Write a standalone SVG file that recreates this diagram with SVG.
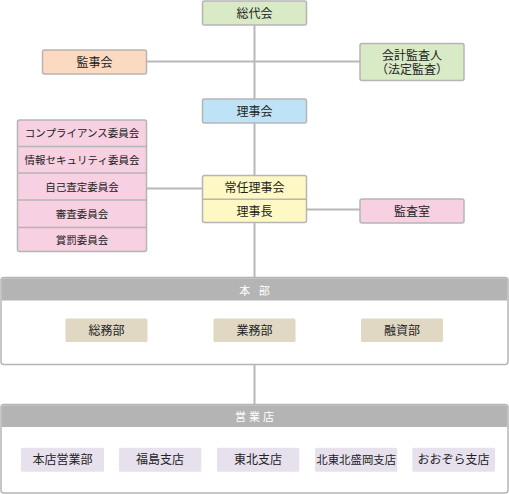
<svg xmlns="http://www.w3.org/2000/svg" width="509" height="494" viewBox="0 0 509 494">
<style>
text{font-family:"Noto Sans CJK JP","Noto Sans",sans-serif;font-size:12px;fill:#222;text-anchor:middle}
.box{stroke:#b5b5b5;stroke-width:1.5}
.g{fill:#d9eac6}.p{fill:#fcdac1}.b{fill:#bee3f7}.y{fill:#fef9c4}.k{fill:#f7d0e1}
.t{fill:#e1d8c4}.l{fill:#e7e1ee}
.sm{font-size:10.5px}
.hd{fill:#fff;font-size:11px;letter-spacing:3px}
.ln{stroke:#b8b8b8;stroke-width:2;fill:none}
.panel{fill:#fff;stroke:#b5b5b5;stroke-width:1.5}
.hdr{fill:#b4b4b4}
</style>
<rect width="509" height="494" fill="#fff"/>
<g id="connectors">
<line class="ln" x1="254.5" y1="25" x2="254.5" y2="99"/>
<line class="ln" x1="146.5" y1="61.5" x2="360" y2="61.5"/>
<line class="ln" x1="254.5" y1="123" x2="254.5" y2="175.5"/>
<line class="ln" x1="146.5" y1="188.5" x2="202.5" y2="188.5"/>
<line class="ln" x1="306.5" y1="209.5" x2="360" y2="209.5"/>
<line class="ln" x1="254.5" y1="222.5" x2="254.5" y2="278"/>
<line class="ln" x1="254.5" y1="364" x2="254.5" y2="405"/>
</g>
<g id="soudaikai"><rect class="box g" x="202.5" y="1" width="104" height="24" rx="2"/><text x="254.5" y="17.5">総代会</text></g>
<g id="kanjikai"><rect class="box p" x="42.5" y="50" width="104" height="24" rx="2"/><text x="94.5" y="66.5">監事会</text></g>
<g id="kaikei"><rect class="box g" x="360" y="43.5" width="104" height="37" rx="2"/><text x="412" y="59.5">会計監査人<tspan x="412" dy="14">（法定監査）</tspan></text></g>
<g id="rijikai"><rect class="box b" x="202.5" y="99" width="104" height="24" rx="2"/><text x="254.5" y="115.5">理事会</text></g>
<g id="committees">
<rect class="box k" x="17.5" y="120" width="129" height="131.5" rx="2"/>
<line class="box" x1="17.5" y1="146.5" x2="146.5" y2="146.5"/>
<line class="box" x1="17.5" y1="173" x2="146.5" y2="173"/>
<line class="box" x1="17.5" y1="200" x2="146.5" y2="200"/>
<line class="box" x1="17.5" y1="227.5" x2="146.5" y2="227.5"/>
<text class="sm" x="82" y="137">コンプライアンス委員会</text>
<text class="sm" x="82" y="163.5">情報セキュリティ委員会</text>
<text class="sm" x="82" y="190.5">自己査定委員会</text>
<text class="sm" x="82" y="217.5">審査委員会</text>
<text class="sm" x="82" y="243.5">賞罰委員会</text>
</g>
<g id="joninrijikai">
<rect class="box y" x="202.5" y="175.5" width="104" height="47" rx="2"/>
<line class="box" x1="202.5" y1="199.3" x2="306.5" y2="199.3"/>
<text x="254.5" y="192">常任理事会</text>
<text x="254.5" y="215.5">理事長</text>
</g>
<g id="kansashitsu"><rect class="box k" x="360" y="199" width="104" height="24" rx="2"/><text x="412" y="215.5">監査室</text></g>
<g id="honbu">
<rect class="panel" x="1" y="277.5" width="507" height="87" rx="3"/>
<path class="hdr" d="M1.75 300.5V281a2.750 2.75 0 0 1 2.75-2.75h500a2.75 2.75 0 0 1 2.75 2.75v19.5z"/>
<text class="hd" x="256" y="294.5">本 部</text>
<rect class="t" x="65.5" y="318.5" width="82" height="23.5" rx="1.5"/><text x="106.5" y="334.5">総務部</text>
<rect class="t" x="213.5" y="318.5" width="82" height="23.5" rx="1.5"/><text x="254.5" y="334.5">業務部</text>
<rect class="t" x="361" y="318.5" width="82" height="23.5" rx="1.5"/><text x="402" y="334.5">融資部</text>
</g>
<g id="eigyoten">
<rect class="panel" x="1" y="404.5" width="507" height="88.5" rx="3"/>
<path class="hdr" d="M1.75 427V408a2.75 2.75 0 0 1 2.75-2.75h500a2.75 2.75 0 0 1 2.75 2.75v19z"/>
<text class="hd" x="256" y="420.5">営業店</text>
<rect class="l" x="21" y="447.7" width="83" height="24" rx="1.5"/><text x="62.5" y="463.8">本店営業部</text>
<rect class="l" x="119" y="447.7" width="82.3" height="24" rx="1.5"/><text x="160" y="463.8">福島支店</text>
<rect class="l" x="217" y="447.7" width="82.3" height="24" rx="1.5"/><text x="258" y="463.8">東北支店</text>
<rect class="l" x="315" y="447.7" width="82.3" height="24" rx="1.5"/><text x="356.2" y="463.8" style="font-size:11.4px">北東北盛岡支店</text>
<rect class="l" x="412.3" y="447.7" width="82.7" height="24" rx="1.5"/><text x="453.6" y="463.8">おおぞら支店</text>
</g>
</svg>
